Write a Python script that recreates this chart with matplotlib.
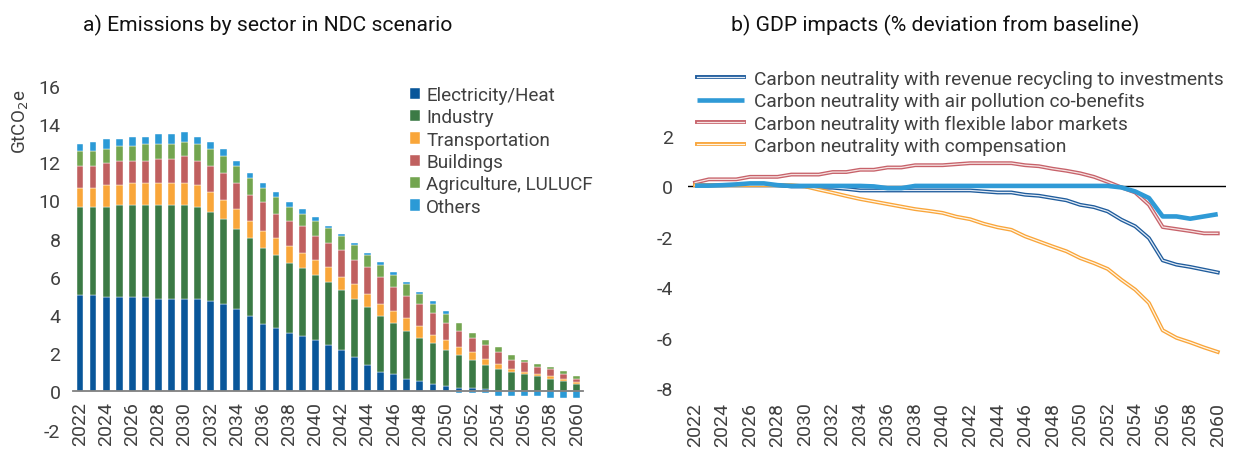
import matplotlib.pyplot as plt
import numpy as np

plt.rcParams['font.family'] = ['Roboto', 'DejaVu Sans']
plt.rcParams['axes.unicode_minus'] = False

years = list(range(2022, 2061))

# a) emissions by sector, GtCO2e
electricity = [5.07, 5.07, 4.95, 4.95, 4.95, 4.95, 4.84, 4.84, 4.84, 4.84,
               4.72, 4.60, 4.34, 3.97, 3.55, 3.34, 3.06, 2.92, 2.71, 2.45,
               2.19, 1.80, 1.40, 1.03, 0.93, 0.66, 0.54, 0.40, 0.28, 0.16,
               0.16, 0.12, 0.03, 0.02, 0.02, 0.02, 0.02, 0.02, 0.02]
industry = [4.58, 4.58, 4.70, 4.83, 4.83, 4.83, 4.94, 4.94, 4.94, 4.81,
            4.67, 4.41, 4.18, 4.04, 3.95, 3.78, 3.67, 3.55, 3.39, 3.29,
            3.14, 3.04, 3.04, 2.94, 2.66, 2.52, 2.28, 2.15, 1.91, 1.75,
            1.50, 1.28, 1.14, 1.01, 0.89, 0.77, 0.63, 0.52, 0.36]
transport = [1.02, 1.02, 1.16, 1.03, 1.15, 1.15, 1.15, 1.15, 1.15, 1.16,
             1.03, 1.03, 1.01, 0.89, 0.89, 0.89, 0.89, 0.79, 0.77, 0.76,
             0.67, 0.77, 0.67, 0.63, 0.62, 0.65, 0.63, 0.41, 0.49, 0.40,
             0.40, 0.30, 0.26, 0.14, 0.12, 0.12, 0.14, 0.12, 0.12]
buildings = [1.13, 1.13, 1.13, 1.26, 1.14, 1.14, 1.26, 1.26, 1.38, 1.26,
             1.38, 1.38, 1.38, 1.38, 1.53, 1.26, 1.28, 1.38, 1.26, 1.26,
             1.38, 1.26, 1.40, 1.38, 1.28, 1.14, 1.15, 1.13, 0.89, 0.87,
             0.75, 0.73, 0.63, 0.49, 0.51, 0.37, 0.38, 0.28, 0.16]
agriculture = [0.79, 0.79, 0.76, 0.75, 0.75, 0.87, 0.75, 0.75, 0.77, 0.87,
               0.90, 0.89, 0.89, 0.90, 0.75, 0.89, 0.75, 0.63, 0.77, 0.77,
               0.75, 0.77, 0.61, 0.63, 0.63, 0.63, 0.51, 0.51, 0.50, 0.41,
               0.27, 0.25, 0.25, 0.26, 0.12, 0.14, 0.12, 0.13, 0.14]
others = [0.35, 0.49, 0.50, 0.38, 0.51, 0.39, 0.53, 0.53, 0.51, 0.39,
          0.38, 0.39, 0.27, 0.26, 0.24, 0.26, 0.27, 0.26, 0.25, 0.14,
          0.12, 0.12, 0.12, 0.14, 0.12, 0.12, 0.12, 0.12, 0.13, -0.10,
          -0.10, -0.10, -0.21, -0.21, -0.21, -0.21, -0.35, -0.35, -0.35]

sectors = ['Electricity/Heat', 'Industry', 'Transportation', 'Buildings',
           'Agriculture, LULUCF', 'Others']
sector_colors = ['#08569a', '#3b7a45', '#f9a63a', '#c0605f', '#73a550', '#2b9ad6']

# b) GDP impacts, % deviation from baseline
scenarios = ['Carbon neutrality with revenue recycling to investments',
             'Carbon neutrality with air pollution co-benefits',
             'Carbon neutrality with flexible labor markets',
             'Carbon neutrality with compensation']
recycling = [0.05, 0.05, 0.05, 0.05, 0.05, 0.05, 0.05, 0.0, 0.0, -0.05,
             -0.05, -0.10, -0.16, -0.16, -0.16, -0.16, -0.16, -0.16, -0.16, -0.16,
             -0.16, -0.20, -0.24, -0.24, -0.33, -0.37, -0.46, -0.55, -0.73, -0.82,
             -0.99, -1.32, -1.58, -2.05, -2.93, -3.10, -3.19, -3.30, -3.41]
air_pollution = [0.03, 0.03, 0.05, 0.08, 0.12, 0.12, 0.05, 0.02, 0.02, 0.02,
                 0.02, 0.02, 0.02, 0.0, -0.07, -0.07, 0.02, 0.02, 0.02, 0.02,
                 0.02, 0.02, 0.02, 0.02, 0.02, 0.02, 0.02, 0.02, 0.02, 0.02,
                 0.02, -0.04, -0.20, -0.46, -1.19, -1.19, -1.28, -1.19, -1.10]
flexible_labor = [0.15, 0.28, 0.28, 0.28, 0.38, 0.38, 0.38, 0.47, 0.47, 0.47,
                  0.57, 0.57, 0.66, 0.66, 0.75, 0.75, 0.84, 0.84, 0.84, 0.88,
                  0.92, 0.92, 0.92, 0.92, 0.84, 0.80, 0.70, 0.62, 0.52, 0.38,
                  0.18, -0.04, -0.24, -0.73, -1.61, -1.69, -1.77, -1.86, -1.86]
compensation = [0.05, 0.05, 0.05, 0.05, 0.05, 0.05, 0.05, 0.05, 0.0, -0.13,
                -0.25, -0.38, -0.50, -0.60, -0.70, -0.80, -0.90, -0.97, -1.05, -1.20,
                -1.30, -1.48, -1.62, -1.72, -1.98, -2.18, -2.38, -2.57, -2.84, -3.04,
                -3.27, -3.70, -4.09, -4.62, -5.70, -6.00, -6.18, -6.38, -6.56]

TXT = '#404040'

fig = plt.figure(figsize=(12.33, 4.52), dpi=100)

# ---------------- left panel: stacked bars
ax1 = fig.add_axes([0.0592, 0.0471, 0.4136, 0.7611])
for s in ['top', 'right', 'left']:
    ax1.spines[s].set_visible(False)
ax1.spines['bottom'].set_position(('data', 0))
ax1.spines['bottom'].set_color('#808080')
ax1.spines['bottom'].set_linewidth(1.3)

x = np.arange(len(years))
pos_bottom = np.zeros(len(years))
neg_bottom = np.zeros(len(years))
for vals, lab, col in zip([electricity, industry, transport, buildings, agriculture, others],
                          sectors, sector_colors):
    v = np.array(vals)
    bottom = np.where(v >= 0, pos_bottom, neg_bottom)
    ax1.bar(x, v, width=0.52, bottom=bottom, color=col, label=lab,
            edgecolor='#ffffff', linewidth=0.3)
    pos_bottom += np.clip(v, 0, None)
    neg_bottom += np.clip(v, None, 0)

ax1.set_xlim(-0.535, 38.48)
ax1.set_ylim(-2, 16)
ax1.set_yticks(np.arange(-2, 17, 2))
ax1.set_xticks(x[::2])
ax1.set_xticklabels([str(y) for y in years[::2]])
ax1.tick_params(axis='y', length=0, pad=9, labelsize=14, labelcolor=TXT)
ax1.tick_params(axis='x', length=0, pad=7, labelsize=14, labelcolor=TXT,
                labelrotation=90)

fig.text(21 / 1233, 1 - 122 / 452, 'GtCO$_2$e', rotation=90, ha='center', va='center',
         fontsize=13.5, color=TXT)
fig.text(267.5 / 1233, 1 - 25 / 452, 'a) Emissions by sector in NDC scenario',
         ha='center', va='center', fontsize=15.2, color='#111111')

ax1.legend(loc='upper left', bbox_to_anchor=(410 / 1233, 1 - 87 / 452),
           bbox_transform=fig.transFigure, frameon=False, fontsize=13.6,
           handlelength=0.55, handleheight=0.55, handletextpad=0.3,
           labelspacing=0.23, borderpad=0, borderaxespad=0, labelcolor=TXT)

# ---------------- right panel: GDP lines
ax2 = fig.add_axes([0.558, 0.1387, 0.4363, 0.670])
for s in ax2.spines.values():
    s.set_visible(False)
ax2.axhline(0, color='#000000', lw=1.0, zorder=1)

handles = []
double_styles = [('#1f5c9c', '#e4ecf6'), None, ('#c7626a', '#f6e2e2'), ('#f9a53a', '#fff6e8')]
for vals, style, name in zip([recycling, air_pollution, flexible_labor, compensation],
                             double_styles, scenarios):
    if style is None:
        l1, = ax2.plot(x, vals, color='#2f9ad6', lw=3.3, zorder=3, solid_capstyle='butt')
        handles.append(l1)
    else:
        outer, inner = style
        l1, = ax2.plot(x, vals, color=outer, lw=2.8, zorder=2)
        l2, = ax2.plot(x, vals, color=inner, lw=0.9, zorder=2)
        handles.append((l1, l2))

ax2.set_xlim(-0.51, 38.6)
ax2.set_ylim(-8, 4)
ax2.set_yticks(np.arange(-8, 3, 2))
ax2.set_xticks(x[::2])
ax2.set_xticklabels([str(y) for y in years[::2]])
ax2.tick_params(axis='y', length=0, pad=11, labelsize=14, labelcolor=TXT)
ax2.tick_params(axis='x', length=0, pad=9.5, labelsize=14, labelcolor=TXT,
                labelrotation=90)

fig.text(935 / 1233, 1 - 25 / 452, 'b) GDP impacts (% deviation from baseline)',
         ha='center', va='center', fontsize=15.2, color='#111111')

ax2.legend(handles, scenarios, loc='upper left', bbox_to_anchor=(697 / 1233, 1 - 71 / 452),
           bbox_transform=fig.transFigure, frameon=False, fontsize=13.8,
           handlelength=2.45, handletextpad=0.55, labelspacing=0.22,
           borderpad=0, borderaxespad=0, labelcolor=TXT)

fig.savefig('out.png', dpi=100)
